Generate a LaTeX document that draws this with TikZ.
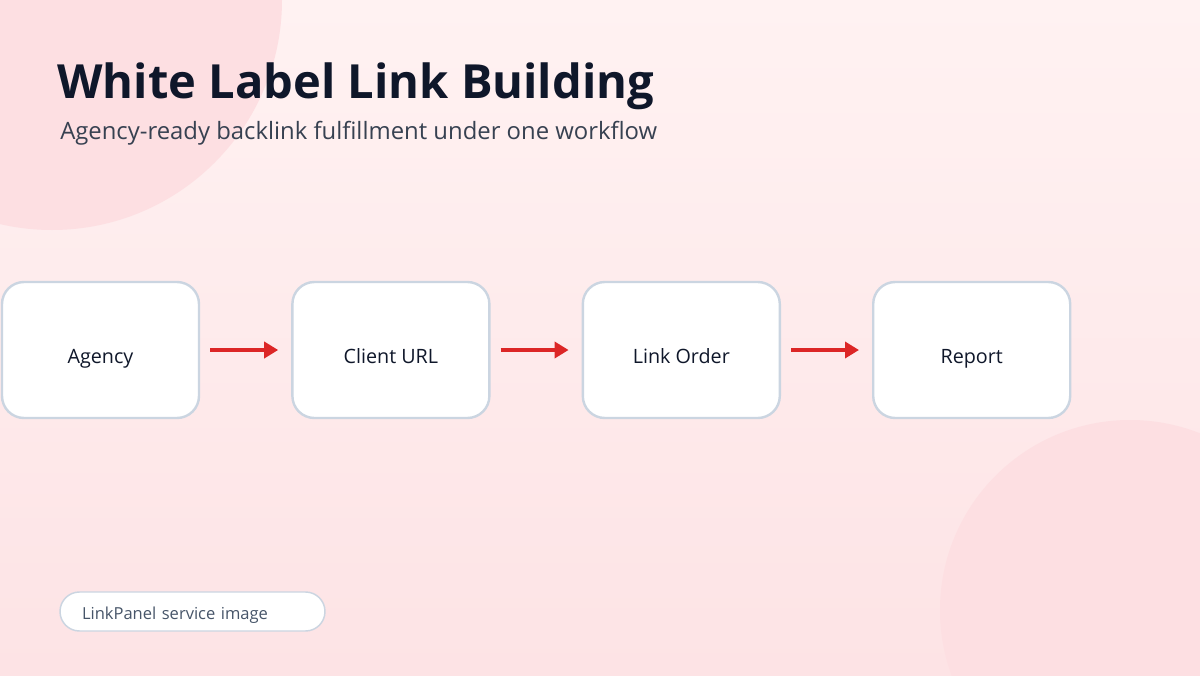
\documentclass[tikz,border=0pt]{standalone}
\usepackage{fontspec}
\setmainfont{Open Sans}
\usetikzlibrary{arrows.meta,positioning}

\definecolor{bgtop}{HTML}{FFF2F2}
\definecolor{bgbot}{HTML}{FDE3E5}
\definecolor{blob}{HTML}{FDDFE2}
\definecolor{ink}{HTML}{0F172A}
\definecolor{subink}{HTML}{374151}
\definecolor{boxline}{HTML}{CBD5E1}
\definecolor{arrowred}{HTML}{DC2626}
\definecolor{noteink}{HTML}{475569}

\begin{document}
\begin{tikzpicture}[
    x=0.75pt, y=-0.75pt,                    % <- 1 unit = 1px, y runs downwards
    stepbox/.style={draw=boxline, line width=1.8pt, fill=white, rounded corners=16.5pt,
      minimum width=147.75pt, minimum height=102pt, inner sep=0pt,
      text height=20pt, text depth=0pt,
      font=\fontsize{14.8}{17}\selectfont, text=ink},
    flow/.style={draw=arrowred, line width=3.4pt, -{Triangle[length=10.5pt,width=12pt]},
      shorten <=7.5pt, shorten >=9.75pt},
    headline/.style={font=\fontsize{35.3}{42}\selectfont\bfseries, text=ink, anchor=base west, inner sep=0pt},
    tagline/.style={font=\fontsize{17.9}{21}\selectfont, text=subink, anchor=base west, inner sep=0pt},
    pill/.style={draw=boxline, line width=1.1pt, fill=white, rounded corners=14.6pt,
      minimum height=29.25pt, text width=165.75pt, align=left, inner xsep=16.5pt,
      text height=1.2em, text depth=0pt,
      font=\fontsize{12.4}{15}\selectfont, text=noteink},
  ]

  % ---------- page + background blobs ----------
  \useasboundingbox (0,0) rectangle (1200,675);
  \shade[top color=bgtop, bottom color=bgbot] (0,0) rectangle (1200,675);
  \begin{scope}
    \clip (0,0) rectangle (1200,675);
    \fill[blob] (52,0) circle[radius=172.5pt];
    \fill[blob] (1130,610) circle[radius=142.5pt];
  \end{scope}

  % ---------- headings ----------
  \node[headline] (title) at (57,98) {White Label Link Building};
  \node[tagline] (subtitle) at (60,139) {Agency-ready backlink fulfillment under one workflow};

  % ---------- workflow steps ----------
  \node[stepbox] (agency) at (100.5,350) {Agency};
  \node[stepbox, right=68.25pt of agency] (client) {Client URL};
  \node[stepbox, right=68.25pt of client] (order) {Link Order};
  \node[stepbox, right=68.25pt of order] (report) {Report};

  % ---------- connectors ----------
  \foreach \a/\b in {agency/client, client/order, order/report}
  \draw[flow] (\a) -- (\b);

  % ---------- footer note ----------
  \node[pill] (note) at (192.5,611.5) {LinkPanel service image};

\end{tikzpicture}
\end{document}
